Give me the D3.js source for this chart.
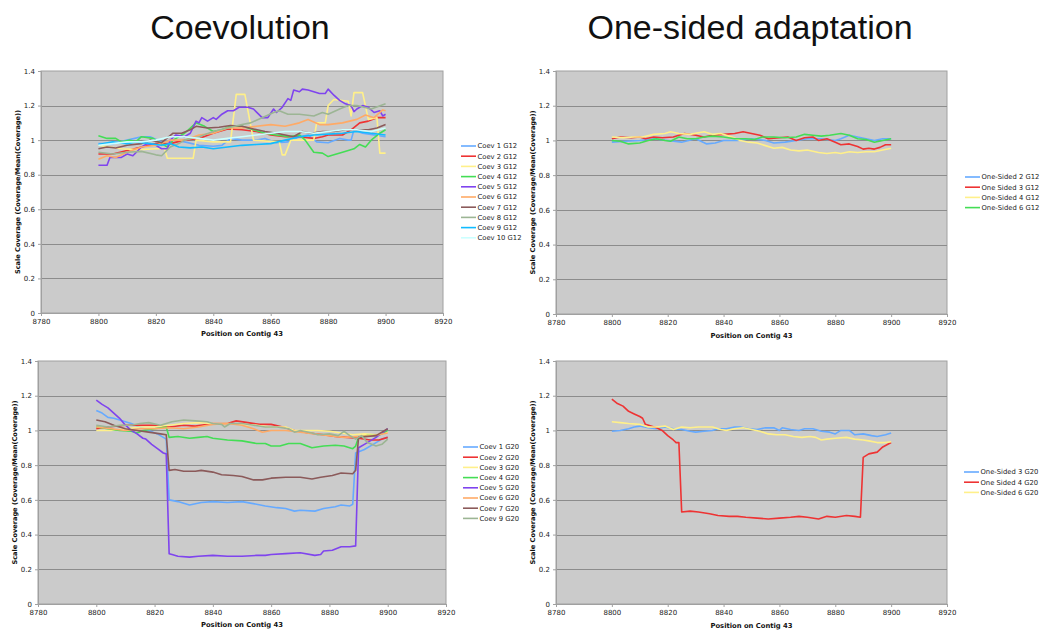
<!DOCTYPE html>
<html>
<head>
<meta charset="utf-8">
<script src="https://cdn.jsdelivr.net/npm/d3@7"></script>
<style>
	body { margin: 0; background: #fff; }
	text { font-family: "DejaVu Sans", Verdana, sans-serif; }
</style>
</head>
<body>
<div id="chart"></div>
<script>
// ---- data: [position, scaled coverage] pairs ----

var xTicks = [8780, 8800, 8820, 8840, 8860, 8880, 8900, 8920];
var yTicks = [0, 0.2, 0.4, 0.6, 0.8, 1, 1.2, 1.4];

// Coevolution, G12
var coev1G12 = [[8800,0.98],[8805,0.98],[8810,1.0],[8815,1.02],[8818,1.02],[8822,0.99],[8826,1.0],[8830,0.99],[8835,0.97],[8840,0.965],[8843,0.97],[8846,1.01],[8850,1.0],[8855,1.0],[8858,1.01],[8862,0.985],[8866,0.99],[8870,1.02],[8873,1.03],[8876,0.99],[8880,0.985],[8884,1.01],[8887,1.0],[8888,1.0],[8889,1.06],[8892,1.04],[8896,1.03],[8900,1.02]];
var coev2G12 = [[8800,0.92],[8805,0.92],[8810,0.94],[8815,0.96],[8820,0.98],[8825,0.98],[8830,1.0],[8835,1.01],[8840,1.04],[8845,1.065],[8850,1.06],[8855,1.05],[8860,1.03],[8865,1.02],[8870,1.02],[8875,1.01],[8878,1.02],[8880,1.03],[8885,1.03],[8888,1.06],[8891,1.1],[8894,1.11],[8897,1.13],[8900,1.13]];
var coev3G12 = [[8800,0.97],[8804,0.96],[8808,0.95],[8814,0.945],[8820,0.95],[8823,0.95],[8824,0.895],[8833,0.895],[8834,1.0],[8840,0.99],[8846,0.99],[8848,1.265],[8851,1.265],[8854,1.0],[8863,0.99],[8864,0.915],[8865,0.915],[8867,1.0],[8875,1.0],[8876,1.1],[8879,1.1],[8880,1.2],[8882,1.235],[8887,1.225],[8888,1.14],[8889,1.275],[8892,1.275],[8894,1.12],[8897,1.13],[8898,0.925],[8900,0.925]];
var coev4G12 = [[8800,1.025],[8803,1.01],[8806,1.01],[8808,0.99],[8811,1.0],[8813,0.99],[8815,1.02],[8819,1.01],[8822,0.98],[8824,0.96],[8826,1.0],[8830,1.04],[8834,1.1],[8837,1.08],[8840,1.05],[8843,1.06],[8846,1.08],[8850,1.08],[8854,1.06],[8858,1.04],[8862,1.03],[8866,1.02],[8870,1.03],[8872,1.0],[8875,0.93],[8878,0.925],[8880,0.905],[8882,0.915],[8885,0.93],[8887,0.94],[8889,0.95],[8891,0.975],[8893,0.96],[8895,1.0],[8898,1.04],[8900,1.06]];
var coev5G12 = [[8800,0.855],[8803,0.855],[8804,0.9],[8808,0.9],[8810,0.92],[8812,0.91],[8815,0.96],[8817,0.98],[8820,0.97],[8822,0.95],[8824,0.95],[8825,1.0],[8827,1.03],[8830,1.02],[8832,1.04],[8834,1.11],[8835,1.1],[8836,1.13],[8838,1.11],[8840,1.13],[8841,1.12],[8843,1.15],[8845,1.17],[8847,1.17],[8849,1.19],[8852,1.19],[8854,1.18],[8857,1.13],[8859,1.13],[8861,1.18],[8862,1.16],[8864,1.19],[8866,1.24],[8867,1.23],[8868,1.29],[8870,1.28],[8871,1.295],[8873,1.29],[8875,1.28],[8877,1.27],[8879,1.27],[8880,1.295],[8882,1.26],[8884,1.23],[8886,1.21],[8888,1.2],[8889,1.165],[8890,1.18],[8892,1.2],[8894,1.19],[8896,1.16],[8898,1.17],[8899,1.14],[8900,1.15]];
var coev6G12 = [[8800,0.89],[8803,0.91],[8806,0.9],[8810,0.93],[8815,0.96],[8820,0.97],[8825,1.0],[8830,1.0],[8835,1.03],[8840,1.04],[8845,1.07],[8850,1.07],[8855,1.08],[8860,1.09],[8865,1.08],[8870,1.1],[8873,1.12],[8877,1.09],[8880,1.09],[8885,1.1],[8890,1.12],[8893,1.145],[8896,1.13],[8899,1.175],[8900,1.17]];
var coev7G12 = [[8800,0.95],[8803,0.96],[8806,0.955],[8810,0.97],[8815,0.98],[8818,1.0],[8822,0.985],[8826,1.04],[8829,1.04],[8832,1.06],[8834,1.08],[8838,1.07],[8842,1.075],[8846,1.085],[8850,1.08],[8854,1.065],[8858,1.05],[8862,1.04],[8865,1.03],[8868,1.02],[8871,1.05],[8874,1.04],[8878,1.05],[8882,1.05],[8886,1.06],[8890,1.06],[8894,1.06],[8897,1.07],[8900,1.09]];
var coev8G12 = [[8800,0.93],[8805,0.92],[8810,0.93],[8815,0.935],[8820,0.915],[8822,0.91],[8825,0.96],[8828,0.98],[8830,1.0],[8835,1.02],[8840,1.05],[8845,1.07],[8850,1.09],[8853,1.1],[8857,1.13],[8861,1.16],[8863,1.17],[8866,1.15],[8870,1.15],[8875,1.14],[8878,1.16],[8880,1.15],[8884,1.18],[8887,1.2],[8890,1.2],[8895,1.18],[8900,1.21]];
var coev9G12 = [[8800,0.975],[8805,0.99],[8810,0.98],[8813,0.99],[8818,0.98],[8822,0.97],[8825,0.98],[8828,0.96],[8832,0.955],[8836,0.96],[8840,0.95],[8845,0.96],[8850,0.97],[8855,0.975],[8860,0.98],[8865,1.0],[8870,1.02],[8875,1.03],[8880,1.035],[8885,1.04],[8890,1.05],[8895,1.04],[8900,1.03]];
var coev10G12 = [[8800,0.97],[8805,0.98],[8810,0.99],[8815,0.99],[8820,1.0],[8825,1.02],[8830,1.02],[8835,1.01],[8840,1.0],[8845,1.01],[8850,1.02],[8855,1.03],[8860,1.04],[8865,1.05],[8870,1.05],[8875,1.04],[8880,1.05],[8885,1.06],[8890,1.06],[8895,1.05],[8900,1.07]];

// One-sided adaptation, G12
var os2G12 = [[8800,0.99],[8805,0.995],[8810,1.0],[8815,1.01],[8820,1.0],[8825,0.99],[8830,1.01],[8834,0.98],[8837,0.985],[8840,1.0],[8845,1.0],[8850,1.01],[8855,1.0],[8858,0.985],[8862,0.99],[8866,1.0],[8870,1.01],[8875,1.01],[8880,1.0],[8882,1.01],[8885,1.03],[8888,1.02],[8891,1.01],[8894,1.0],[8897,1.01],[8900,1.01]];
var os3G12 = [[8800,1.01],[8803,1.02],[8807,1.015],[8810,1.02],[8812,1.01],[8815,1.02],[8818,1.015],[8822,1.02],[8826,1.04],[8830,1.03],[8833,1.02],[8836,1.03],[8840,1.035],[8844,1.04],[8847,1.05],[8850,1.04],[8853,1.03],[8856,1.01],[8860,1.015],[8863,1.02],[8866,1.0],[8869,1.015],[8872,1.02],[8874,1.0],[8877,1.01],[8880,0.99],[8882,0.975],[8885,0.98],[8888,0.965],[8890,0.95],[8892,0.955],[8894,0.95],[8896,0.96],[8898,0.975],[8900,0.975]];
var os4G12 = [[8800,1.02],[8804,1.015],[8808,1.02],[8811,1.02],[8815,1.035],[8819,1.04],[8821,1.05],[8824,1.04],[8828,1.035],[8833,1.05],[8836,1.035],[8839,1.04],[8843,1.02],[8846,1.0],[8849,0.99],[8852,0.985],[8855,0.97],[8858,0.955],[8861,0.96],[8864,0.945],[8867,0.94],[8870,0.945],[8874,0.93],[8877,0.925],[8880,0.93],[8882,0.925],[8885,0.935],[8888,0.93],[8891,0.935],[8894,0.935],[8897,0.945],[8900,0.955]];
var os6G12 = [[8800,1.0],[8803,0.995],[8806,0.98],[8810,0.985],[8813,1.0],[8816,1.01],[8819,1.0],[8821,0.995],[8824,1.02],[8827,1.01],[8830,1.01],[8833,1.02],[8836,1.025],[8840,1.02],[8844,1.01],[8848,1.01],[8851,1.005],[8854,1.02],[8858,1.02],[8862,1.015],[8866,1.02],[8869,1.035],[8872,1.03],[8875,1.025],[8878,1.03],[8882,1.04],[8885,1.03],[8888,1.01],[8891,1.005],[8894,0.99],[8897,1.0],[8900,1.01]];

// Coevolution, G20
var coev1G20 = [[8800,1.115],[8802,1.1],[8804,1.075],[8806,1.07],[8808,1.06],[8812,1.04],[8815,1.02],[8818,1.0],[8821,0.98],[8824,0.95],[8825,0.6],[8828,0.59],[8832,0.57],[8836,0.585],[8840,0.59],[8845,0.585],[8850,0.59],[8855,0.575],[8858,0.565],[8862,0.555],[8865,0.55],[8868,0.535],[8870,0.54],[8875,0.535],[8878,0.55],[8882,0.56],[8884,0.57],[8887,0.565],[8888,0.575],[8889,0.87],[8892,0.89],[8895,0.92],[8898,0.95],[8900,0.96]];
var coev2G20 = [[8800,1.01],[8804,1.02],[8810,1.03],[8815,1.03],[8820,1.03],[8825,1.02],[8830,1.03],[8834,1.025],[8840,1.04],[8845,1.04],[8848,1.055],[8852,1.045],[8856,1.035],[8860,1.035],[8864,1.02],[8868,1.0],[8873,0.985],[8878,0.975],[8882,0.965],[8886,0.96],[8890,0.955],[8894,0.945],[8897,0.945],[8900,0.96]];
var coev3G20 = [[8800,1.0],[8805,1.0],[8810,1.01],[8815,1.02],[8820,1.02],[8825,1.03],[8830,1.04],[8835,1.045],[8840,1.04],[8845,1.04],[8850,1.035],[8855,1.03],[8860,1.02],[8865,1.02],[8868,1.0],[8872,1.0],[8876,1.0],[8880,0.995],[8884,0.985],[8888,0.975],[8892,0.98],[8896,0.975],[8900,0.99]];
var coev4G20 = [[8800,1.02],[8804,1.01],[8808,1.0],[8812,0.995],[8814,0.985],[8816,1.0],[8820,1.01],[8824,1.02],[8825,0.96],[8828,0.965],[8832,0.955],[8835,0.96],[8838,0.965],[8840,0.955],[8845,0.945],[8850,0.94],[8855,0.925],[8858,0.925],[8860,0.91],[8863,0.91],[8866,0.925],[8870,0.925],[8874,0.9],[8878,0.91],[8882,0.915],[8885,0.91],[8888,0.895],[8889,0.91],[8890,0.96],[8893,0.97],[8896,0.97],[8898,0.98],[8900,1.0]];
var coev5G20 = [[8800,1.175],[8802,1.15],[8804,1.13],[8806,1.1],[8808,1.07],[8810,1.03],[8812,1.0],[8814,0.98],[8816,0.955],[8817,0.95],[8819,0.92],[8821,0.895],[8823,0.87],[8824,0.865],[8825,0.29],[8826,0.285],[8828,0.275],[8832,0.27],[8835,0.275],[8840,0.28],[8845,0.275],[8850,0.275],[8855,0.28],[8858,0.28],[8860,0.285],[8865,0.29],[8870,0.295],[8875,0.28],[8877,0.285],[8878,0.305],[8881,0.31],[8884,0.33],[8887,0.33],[8889,0.335],[8890,0.9],[8892,0.92],[8894,0.94],[8896,0.96],[8898,0.985],[8900,1.01]];
var coev6G20 = [[8800,1.02],[8805,1.01],[8810,1.0],[8815,1.01],[8820,1.01],[8825,1.015],[8830,1.01],[8835,1.02],[8840,1.035],[8845,1.04],[8850,1.03],[8854,1.01],[8857,0.99],[8860,1.0],[8865,1.0],[8870,0.99],[8875,0.98],[8880,0.97],[8885,0.96],[8890,0.965],[8895,0.97],[8900,0.985]];
var coev7G20 = [[8800,1.06],[8803,1.05],[8806,1.03],[8810,1.01],[8814,1.0],[8818,0.99],[8822,0.98],[8824,0.975],[8825,0.77],[8827,0.775],[8830,0.765],[8834,0.765],[8836,0.77],[8840,0.76],[8843,0.745],[8847,0.74],[8850,0.735],[8854,0.715],[8857,0.715],[8860,0.725],[8865,0.73],[8870,0.73],[8874,0.72],[8877,0.73],[8881,0.74],[8884,0.755],[8888,0.75],[8889,0.77],[8890,0.96],[8893,0.965],[8896,0.97],[8898,0.99],[8900,1.01]];
var coev9G20 = [[8800,1.03],[8804,1.02],[8808,1.03],[8812,1.03],[8815,1.04],[8818,1.045],[8822,1.03],[8826,1.05],[8830,1.06],[8834,1.055],[8838,1.05],[8840,1.04],[8843,1.035],[8844,1.02],[8846,1.04],[8850,1.04],[8854,1.03],[8858,1.02],[8862,1.02],[8866,1.01],[8868,0.99],[8870,1.0],[8874,0.985],[8876,0.975],[8880,0.98],[8883,0.97],[8885,0.995],[8887,0.97],[8889,0.95],[8891,0.97],[8893,0.93],[8896,0.91],[8898,0.92],[8900,0.95]];

// One-sided adaptation, G20
var os3G20 = [[8800,0.995],[8803,1.0],[8806,1.01],[8808,1.02],[8810,1.025],[8813,1.015],[8816,1.01],[8819,1.02],[8822,1.01],[8825,1.005],[8828,0.995],[8830,0.99],[8833,0.995],[8836,1.0],[8838,1.01],[8841,1.01],[8844,1.02],[8846,1.02],[8849,1.01],[8852,1.005],[8855,1.015],[8858,1.015],[8860,1.0],[8861,1.015],[8864,1.005],[8867,1.0],[8869,1.01],[8872,1.01],[8875,0.995],[8878,0.99],[8880,0.98],[8882,1.0],[8885,1.0],[8887,0.975],[8890,0.98],[8893,0.97],[8895,0.965],[8898,0.975],[8900,0.985]];
var os4G20 = [[8800,1.18],[8802,1.155],[8804,1.14],[8806,1.11],[8808,1.095],[8810,1.08],[8811,1.07],[8812,1.035],[8814,1.025],[8816,1.015],[8818,1.0],[8820,0.97],[8822,0.945],[8823,0.93],[8824,0.93],[8825,0.53],[8828,0.535],[8831,0.53],[8835,0.52],[8838,0.51],[8842,0.505],[8845,0.505],[8848,0.5],[8852,0.495],[8856,0.49],[8860,0.495],[8864,0.5],[8867,0.505],[8870,0.5],[8874,0.49],[8877,0.505],[8880,0.5],[8884,0.51],[8887,0.505],[8889,0.5],[8890,0.845],[8892,0.865],[8895,0.875],[8897,0.905],[8900,0.93]];
var os6G20 = [[8800,1.05],[8803,1.045],[8806,1.04],[8810,1.035],[8813,1.02],[8816,1.02],[8819,1.025],[8822,1.005],[8825,1.02],[8828,1.015],[8831,1.02],[8834,1.02],[8836,1.02],[8839,1.005],[8841,1.0],[8844,1.01],[8847,1.015],[8850,1.005],[8853,0.995],[8856,0.98],[8859,0.975],[8862,0.975],[8865,0.965],[8868,0.96],[8871,0.965],[8873,0.96],[8875,0.945],[8877,0.95],[8880,0.955],[8884,0.96],[8887,0.95],[8890,0.945],[8892,0.94],[8895,0.93],[8898,0.93],[8900,0.935]];

// ---- panels ----
var C = {
	blue: "#66aaff", red: "#ee3333", yellow: "#fff08a", green: "#44dd55",
	purple: "#7f44ee", orange: "#ffaa66", brown: "#8b5a5a", sage: "#9cb594",
	cyan: "#11bbff", pale: "#ccffff"
};

var panels = [
	{ box: { l: 41, r: 443, t: 71, b: 313 }, ylabX: 18, xlabY: 336, legX: 461, legY: 146,
	  series: [
		{ name: "Coev 1 G12", color: C.blue, data: coev1G12 },
		{ name: "Coev 2 G12", color: C.red, data: coev2G12 },
		{ name: "Coev 3 G12", color: C.yellow, data: coev3G12 },
		{ name: "Coev 4 G12", color: C.green, data: coev4G12 },
		{ name: "Coev 5 G12", color: C.purple, data: coev5G12 },
		{ name: "Coev 6 G12", color: C.orange, data: coev6G12 },
		{ name: "Coev 7 G12", color: C.brown, data: coev7G12 },
		{ name: "Coev 8 G12", color: C.sage, data: coev8G12 },
		{ name: "Coev 9 G12", color: C.cyan, data: coev9G12 },
		{ name: "Coev 10 G12", color: C.pale, data: coev10G12 }
	] },
	{ box: { l: 556, r: 947, t: 71, b: 314 }, ylabX: 533, xlabY: 338, legX: 965, legY: 177,
	  series: [
		{ name: "One-Sided 2 G12", color: C.blue, data: os2G12 },
		{ name: "One Sided 3 G12", color: C.red, data: os3G12 },
		{ name: "One-Sided 4 G12", color: C.yellow, data: os4G12 },
		{ name: "One-Sided 6 G12", color: C.green, data: os6G12 }
	] },
	{ box: { l: 38, r: 446, t: 361, b: 604 }, ylabX: 15, xlabY: 627, legX: 463, legY: 447,
	  series: [
		{ name: "Coev 1 G20", color: C.blue, data: coev1G20 },
		{ name: "Coev 2 G20", color: C.red, data: coev2G20 },
		{ name: "Coev 3 G20", color: C.yellow, data: coev3G20 },
		{ name: "Coev 4 G20", color: C.green, data: coev4G20 },
		{ name: "Coev 5 G20", color: C.purple, data: coev5G20 },
		{ name: "Coev 6 G20", color: C.orange, data: coev6G20 },
		{ name: "Coev 7 G20", color: C.brown, data: coev7G20 },
		{ name: "Coev 9 G20", color: C.sage, data: coev9G20 }
	] },
	{ box: { l: 556, r: 947, t: 361, b: 604 }, ylabX: 533, xlabY: 628, legX: 964, legY: 472,
	  series: [
		{ name: "One-Sided 3 G20", color: C.blue, data: os3G20 },
		{ name: "One Sided 4 G20", color: C.red, data: os4G20 },
		{ name: "One-Sided 6 G20", color: C.yellow, data: os6G20 }
	] }
];

var svg = d3.select("#chart").append("svg")
	.attr("width", 1041)
	.attr("height", 631);

svg.append("rect").attr("width", 1041).attr("height", 631).attr("fill", "#fff");

// big titles
svg.append("text").attr("x", 240).attr("y", 39).attr("text-anchor", "middle")
	.style("font-family", "'Liberation Sans', Arial, sans-serif").style("font-size", "34px")
	.attr("fill", "#111").text("Coevolution");
svg.append("text").attr("x", 750).attr("y", 39).attr("text-anchor", "middle")
	.style("font-family", "'Liberation Sans', Arial, sans-serif").style("font-size", "34px")
	.attr("fill", "#111").text("One-sided adaptation");

panels.forEach(drawPanel);

function drawPanel(p)
{
	var b = p.box;
	var x = d3.scaleLinear().domain([8780, 8920]).range([b.l, b.r]);
	var y = d3.scaleLinear().domain([0, 1.4]).range([b.b, b.t]);
	var g = svg.append("g");

	g.append("rect")
		.attr("x", b.l).attr("y", b.t)
		.attr("width", b.r - b.l).attr("height", b.b - b.t)
		.attr("fill", "#cbcbcb")
		.attr("stroke", "#a0a0a0").attr("stroke-width", 1);

	// gridlines
	g.selectAll(".grid").data(yTicks.filter(function(d) { return d > 0 && d < 1.4; }))
		.enter().append("line")
		.attr("x1", b.l).attr("x2", b.r)
		.attr("y1", function(d) { return Math.round(y(d)) + 0.5; })
		.attr("y2", function(d) { return Math.round(y(d)) + 0.5; })
		.attr("stroke", "#8c8c8c").attr("stroke-width", 1);

	// axes
	var yAxis = d3.axisLeft(y).tickValues(yTicks).tickSize(3).tickPadding(3)
		.tickFormat(d3.format("~g"));
	var xAxis = d3.axisBottom(x).tickValues(xTicks).tickSize(3).tickPadding(3)
		.tickFormat(d3.format("d"));

	var ya = g.append("g").attr("transform", "translate(" + b.l + ",0)").call(yAxis);
	var xa = g.append("g").attr("transform", "translate(0," + b.b + ")").call(xAxis);
	[ya, xa].forEach(function(a) {
		a.select(".domain").attr("stroke", "#a0a0a0");
		a.selectAll(".tick line").attr("stroke", "#a0a0a0");
		a.selectAll(".tick text").attr("fill", "#222")
			.style("font-family", "'DejaVu Sans', Verdana, sans-serif")
			.style("font-size", "7px");
	});

	// series lines
	var line = d3.line()
		.x(function(d) { return x(d[0]); })
		.y(function(d) { return y(d[1]); });

	p.series.forEach(function(s) {
		g.append("path")
			.datum(s.data)
			.attr("d", line)
			.attr("fill", "none")
			.attr("stroke", s.color)
			.attr("stroke-width", 1.6)
			.attr("stroke-linejoin", "round");
	});

	// axis titles
	g.append("text")
		.attr("transform", "translate(" + p.ylabX + "," + ((b.t + b.b) / 2) + ") rotate(-90)")
		.attr("text-anchor", "middle").attr("dy", "0.35em")
		.style("font-size", "6.6px").style("font-weight", "bold").attr("fill", "#111")
		.text("Scale Coverage (Coverage/Mean(Coverage))");
	g.append("text")
		.attr("x", (b.l + b.r) / 2).attr("y", p.xlabY)
		.attr("text-anchor", "middle")
		.style("font-size", "6.8px").style("font-weight", "bold").attr("fill", "#111")
		.text("Position on Contig 43");

	// legend
	p.series.forEach(function(s, i) {
		var ly = p.legY + i * 10.2;
		g.append("line")
			.attr("x1", p.legX).attr("x2", p.legX + 15)
			.attr("y1", ly).attr("y2", ly)
			.attr("stroke", s.color).attr("stroke-width", 1.6);
		g.append("text")
			.attr("x", p.legX + 16.5).attr("y", ly).attr("dy", "0.35em")
			.style("font-size", "6.8px").attr("fill", "#222")
			.text(s.name);
	});
}
</script>
</body>
</html>
